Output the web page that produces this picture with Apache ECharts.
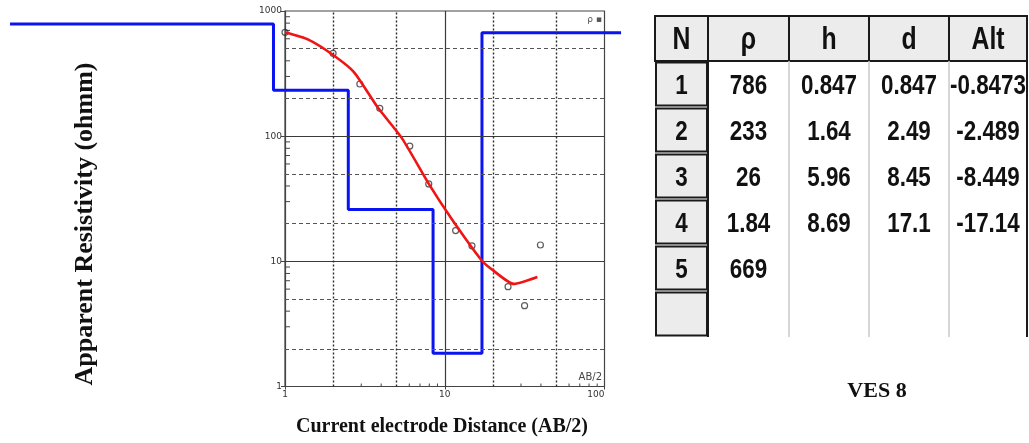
<!DOCTYPE html>
<html><head><meta charset="utf-8">
<script src="https://cdn.jsdelivr.net/npm/echarts@6/dist/echarts.min.js"></script>
<style>html,body{margin:0;padding:0;background:#fff}#c{width:1029px;height:443px}</style>
</head><body><div id="c"></div>
<script>
// ---- data ----
// observed apparent resistivity (field points)
const abHalf = [1, 2, 2.94, 3.92, 6.04, 7.94, 11.7, 14.8, 24.9, 31.6, 39.7];
const rhoObs = [675, 459, 261, 167, 83.4, 41.5, 17.6, 13.3, 6.27, 4.42, 13.5];
// calculated (model) curve
const abCalc = [1, 1.4, 2, 2.7, 3.8, 5.4, 8, 11, 17, 20, 27, 38];
const rhoCalc = [675, 590, 445, 325, 170, 96, 41, 22, 10.2, 8.5, 6.6, 7.5];
// layer model (table)
const layerN = [1, 2, 3, 4, 5];
const layerRho = [786, 233, 26, 1.84, 669];
const layerH = [0.847, 1.64, 5.96, 8.69];
const layerD = [0.847, 2.49, 8.45, 17.1];
const layerAlt = [-0.8473, -2.489, -8.449, -17.14];
const tableHeaders = ['N', 'ρ', 'h', 'd', 'Alt'];
const modelExtent = [0.019, 127];
// axes
const xTickLabels = ['1', '10', '100'];
const yTickLabels = ['1', '10', '100', '1000'];
const xDotted = [2, 5, 20, 50];
const xSolid = [10];
const yDashed = [2, 5, 20, 50, 200, 500];
const ySolid = [10, 100];
const xMinor = [3, 4, 6, 7, 8, 9, 30, 40, 60, 70, 80, 90];
const yMinor = [3, 4, 6, 7, 8, 9, 30, 40, 60, 70, 80, 90, 300, 400, 600, 700, 800, 900];
const wideExtent = [0.0185, 150];

// ---- build ----
const bluePts = [[modelExtent[0], layerRho[0]]];
for (let i = 0; i < layerD.length; i++) {
  bluePts.push([layerD[i], layerRho[i]]);
  bluePts.push([layerD[i], layerRho[i + 1]]);
}
bluePts.push([modelExtent[1], layerRho[layerRho.length - 1]]);

const solidStyle = {type: 'solid', color: '#3a3a3a', width: 1.2};
const dottedStyle = {type: [2, 2], color: '#2a2a2a', width: 1.4};
const dashedStyle = {type: [4, 3], color: '#555', width: 1.2};
const markData = []
  .concat(xSolid.map(v => ({xAxis: v, lineStyle: solidStyle})))
  .concat(ySolid.map(v => ({yAxis: v, lineStyle: solidStyle})))
  .concat(xDotted.map(v => ({xAxis: v, lineStyle: dottedStyle})))
  .concat(yDashed.map(v => ({yAxis: v, lineStyle: dashedStyle})));

// plot geometry: x decade px, value 1 at plotLeft
const plotLeft = 285, plotRight = 604.5, decadePx = (plotRight - plotLeft) / 2;
// wide companion grid (same scale) for the layered model line, kept inside the canvas
const wideLeft = plotLeft + Math.log10(wideExtent[0]) * decadePx;
const wideRight = plotLeft + Math.log10(wideExtent[1]) * decadePx;

// table graphics
const colX = [655, 708, 789, 869, 949, 1027];
const headTop = 16, headBot = 61, rowH = 46, nRows = 6;
const g = [];
const F = 'Liberation Sans';
function txt(x, y, s, size) {
  g.push({type: 'text', x: x, y: y, scaleX: 0.8, z: 10,
    style: {text: s, fontFamily: F, fontWeight: 'bold', fontSize: size, fill: '#111',
      align: 'center', verticalAlign: 'middle', textAlign: 'center', textVerticalAlign: 'middle'}});
}
g.push({type: 'rect', shape: {x: colX[0], y: headTop, width: colX[5] - colX[0], height: headBot - headTop},
  style: {fill: '#ececec', stroke: '#1a1a1a', lineWidth: 2}});
for (let c = 1; c < 5; c++) {
  g.push({type: 'line', shape: {x1: colX[c], y1: headTop, x2: colX[c], y2: headBot}, style: {stroke: '#1a1a1a', lineWidth: 2}});
  g.push({type: 'line', shape: {x1: colX[c], y1: headBot, x2: colX[c], y2: headBot + rowH * nRows},
    style: {stroke: c === 1 ? '#1a1a1a' : '#c8c8c8', lineWidth: c === 1 ? 2 : 1.5}});
}
g.push({type: 'line', shape: {x1: colX[5], y1: headTop, x2: colX[5], y2: headBot + rowH * nRows}, style: {stroke: '#1a1a1a', lineWidth: 2}});
for (let c = 0; c < 5; c++) txt((colX[c] + colX[c + 1]) / 2, (headTop + headBot) / 2 + 2, tableHeaders[c], 31);
for (let r = 0; r < nRows; r++) {
  const top = headBot + r * rowH;
  g.push({type: 'rect', shape: {x: colX[0] + 1, y: top + 1.5, width: colX[1] - colX[0] - 2, height: rowH - 3},
    style: {fill: '#ececec', stroke: '#1a1a1a', lineWidth: 2}});
  const cy = top + rowH / 2 + 2;
  if (r < layerN.length) {
    txt((colX[0] + colX[1]) / 2, cy, String(layerN[r]), 28);
    txt((colX[1] + colX[2]) / 2, cy, String(layerRho[r]), 28);
    if (r < layerH.length) {
      txt((colX[2] + colX[3]) / 2, cy, String(layerH[r]), 28);
      txt((colX[3] + colX[4]) / 2, cy, String(layerD[r]), 28);
      txt((colX[4] + colX[5]) / 2, cy, String(layerAlt[r]), 28);
    }
  }
}
// titles
g.push({type: 'text', x: 85, y: 224, rotation: Math.PI / 2,
  style: {text: 'Apparent Resistivity (ohmm)', fontFamily: 'Liberation Serif', fontWeight: 'bold', fontSize: 26, fill: '#111',
    align: 'center', verticalAlign: 'middle', textAlign: 'center', textVerticalAlign: 'middle'}});
g.push({type: 'text', x: 442, y: 427,
  style: {text: 'Current electrode Distance (AB/2)', fontFamily: 'Liberation Serif', fontWeight: 'bold', fontSize: 20, fill: '#111',
    align: 'center', verticalAlign: 'middle', textAlign: 'center', textVerticalAlign: 'middle'}});
g.push({type: 'text', x: 877, y: 391,
  style: {text: 'VES 8', fontFamily: 'Liberation Serif', fontWeight: 'bold', fontSize: 22, fill: '#111',
    align: 'center', verticalAlign: 'middle', textAlign: 'center', textVerticalAlign: 'middle'}});
g.push({type: 'text', x: 602, y: 377,
  style: {text: 'AB/2', fontFamily: 'DejaVu Sans', fontSize: 10, fill: '#444',
    align: 'right', verticalAlign: 'middle', textAlign: 'right', textVerticalAlign: 'middle'}});
g.push({type: 'text', x: 602, y: 20,
  style: {text: 'ρ ▪', fontFamily: 'DejaVu Sans', fontSize: 9, fill: '#555',
    align: 'right', verticalAlign: 'middle', textAlign: 'right', textVerticalAlign: 'middle'}});

const chart = echarts.init(document.getElementById('c'), null, {renderer: 'canvas'});
chart.setOption({
  animation: false,
  backgroundColor: '#fff',
  grid: [
    {left: plotLeft, right: 1029 - plotRight, top: 11, bottom: 56.5, show: true, borderColor: '#444', borderWidth: 1.2, backgroundColor: 'transparent'},
    {left: wideLeft, right: 1029 - wideRight, top: 11, bottom: 56.5, show: false}
  ],
  xAxis: [
    {type: 'log', logBase: 10, min: 1, max: 100, gridIndex: 0,
      axisLine: {show: true, lineStyle: {color: '#444', width: 1.2}},
      axisTick: {show: true, length: 3, lineStyle: {color: '#444'}},
      splitLine: {show: false}, minorTick: {show: false},
      axisLabel: {fontFamily: 'DejaVu Sans', fontSize: 9, color: '#333', margin: 4, alignMaxLabel: 'right',
        formatter: v => xTickLabels[Math.round(Math.log10(v))]}},
    {type: 'log', logBase: 10, min: wideExtent[0], max: wideExtent[1], gridIndex: 1, show: false}
  ],
  yAxis: [
    {type: 'log', logBase: 10, min: 1, max: 1000, gridIndex: 0,
      axisLine: {show: true, lineStyle: {color: '#444', width: 1.2}},
      axisTick: {show: true, length: 4, lineStyle: {color: '#444'}},
      splitLine: {show: false}, minorTick: {show: false},
      axisLabel: {fontFamily: 'DejaVu Sans', fontSize: 9, color: '#333', margin: 3,
        formatter: v => yTickLabels[Math.round(Math.log10(v))]}},
    {type: 'log', logBase: 10, min: 1, max: 1000, gridIndex: 1, show: false}
  ],
  graphic: {elements: g},
  series: [
    {type: 'line', name: 'grid', data: [[1, 1]], showSymbol: false, lineStyle: {opacity: 0}, silent: true, z: 1,
      markLine: {silent: true, symbol: ['none', 'none'], label: {show: false}, animation: false, data: markData}},
    {type: 'custom', coordinateSystem: 'cartesian2d', silent: true, z: 2,
      data: yMinor.map(v => [1, v]),
      renderItem: (p, api) => {
        const pt = api.coord([api.value(0), api.value(1)]);
        return {type: 'line', shape: {x1: pt[0], y1: pt[1], x2: pt[0] + 5, y2: pt[1]}, style: {stroke: '#444', lineWidth: 1}};
      }},
    {type: 'custom', coordinateSystem: 'cartesian2d', silent: true, z: 2,
      data: xMinor.map(v => [v, 1]),
      renderItem: (p, api) => {
        const pt = api.coord([api.value(0), api.value(1)]);
        return {type: 'line', shape: {x1: pt[0], y1: pt[1], x2: pt[0], y2: pt[1] - 3}, style: {stroke: '#444', lineWidth: 1}};
      }},
    {type: 'line', name: 'model', xAxisIndex: 1, yAxisIndex: 1, data: bluePts, clip: false, showSymbol: false, z: 3,
      lineStyle: {color: '#0a14f0', width: 3}},
    {type: 'scatter', name: 'obs', data: abHalf.map((x, i) => [x, rhoObs[i]]), symbol: 'circle', symbolSize: 6, z: 4,
      itemStyle: {color: 'rgba(255,255,255,0)', borderColor: '#333', borderWidth: 1.2}},
    {type: 'line', name: 'calc', data: abCalc.map((x, i) => [x, rhoCalc[i]]), showSymbol: false, smooth: 0.2, z: 5,
      lineStyle: {color: '#f01414', width: 2.6}}
  ]
});
</script></body></html>
